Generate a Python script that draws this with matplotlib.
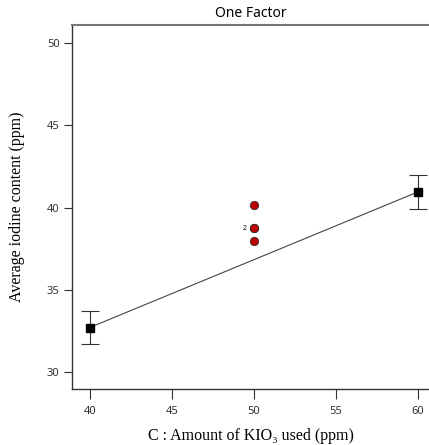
import matplotlib
matplotlib.use("Agg")
import matplotlib.pyplot as plt

# factor levels and predicted means
levels = [40, 60]
pred = [32.7, 40.95]
ci_low = [31.7, 39.9]
ci_high = [33.7, 42.0]

# observed design points (center point repeated)
obs_x = [50, 50, 50, 50]
obs_y = [40.15, 38.75, 38.75, 37.95]

xticks = [40, 45, 50, 55, 60]
yticks = [30, 35, 40, 45, 50]

plt.rcParams["font.family"] = ["Noto Sans", "DejaVu Sans"]

fig = plt.figure(figsize=(4.29, 4.45), dpi=100)
ax = fig.add_axes([0.168, 0.126, 0.832, 0.818])

# prediction line
ax.plot(levels, pred, color="#444444", lw=0.8, zorder=2)

# error bars + squares
yerr = [[p - l for p, l in zip(pred, ci_low)], [h - p for p, h in zip(pred, ci_high)]]
ax.errorbar(levels, pred, yerr=yerr, fmt="s", color="black", ms=6,
            ecolor="#333333", elinewidth=0.8, capsize=6.5, capthick=0.8, zorder=3)

# observed points
ax.plot(obs_x, obs_y, "o", ms=6, markerfacecolor="#bb0000",
        markeredgecolor="#333333", markeredgewidth=0.6, zorder=4)
ax.text(49.55, 38.75, "2", fontsize=5, ha="right", va="center",
        fontweight="bold")

ax.set_xlim(38.93, 60.67)
ax.set_ylim(28.97, 51.1)
ax.set_xticks(xticks)
ax.set_yticks(yticks)

ax.tick_params(axis="x", direction="out", length=7, width=0.8, color="#333333",
               pad=5, labelsize=8, labelcolor="#333333")
ax.tick_params(axis="y", direction="out", length=6, width=0.8, color="#333333",
               pad=3, labelsize=8, labelcolor="#333333")

for s in ["left", "bottom"]:
    ax.spines[s].set_color("#333333")
    ax.spines[s].set_linewidth(1.0)
ax.spines["top"].set_color("#777777")
ax.spines["top"].set_linewidth(1.5)
ax.spines["right"].set_visible(False)

ax.set_title("One Factor", fontsize=10, pad=6)
ax.set_xlabel("C : Amount of KIO\u2083 used (ppm)", family="Liberation Serif",
              fontsize=11.5, labelpad=8)
ax.set_ylabel("Average iodine content (ppm)", family="Liberation Serif",
              fontsize=11.5, labelpad=16)

fig.savefig("out.png", dpi=100)
